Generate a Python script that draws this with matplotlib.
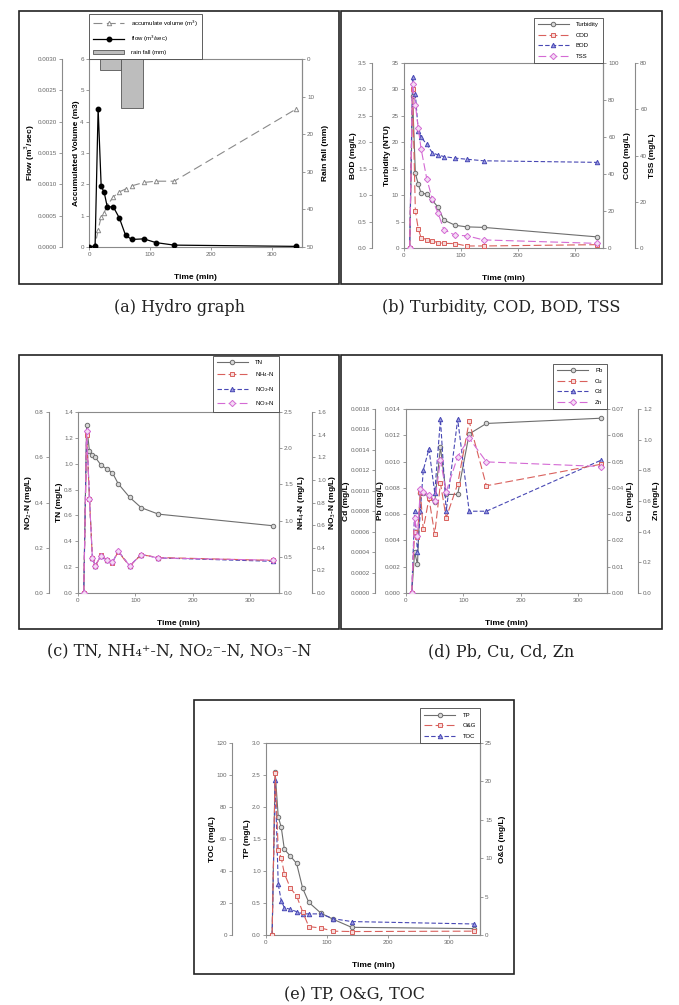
import matplotlib
matplotlib.use("Agg")
from matplotlib import pyplot as plt
from matplotlib.patches import Rectangle, Patch

# ---- data ----
t_flow = [0, 10, 15, 20, 25, 30, 40, 50, 60, 70, 90, 110, 140, 340]
flow = [0, 0.00001, 0.00221, 0.00097, 0.00087, 0.00064, 0.00064, 0.00046,
        0.00019, 0.00012, 0.00013, 0.00007, 0.00003, 0.00001]
volume = [0, 0.05, 0.55, 0.96, 1.1, 1.33, 1.6, 1.76, 1.85, 1.95, 2.06, 2.1, 2.1, 4.4]
rain_from = [18, 52]
rain_to = [52, 88]
rain_mm = [3, 13]

t_q = [10, 15, 20, 25, 30, 40, 50, 60, 70, 90, 110, 140, 340]

turbidity = [0, 28.8, 14.1, 12.1, 10.4, 10.2, 9.0, 7.7, 5.3, 4.3, 4.0, 3.9, 2.1]
cod = [0, 86, 20, 10.5, 5.6, 4.5, 3.8, 2.9, 2.5, 2.4, 1.1, 1.1, 1.8]
bod = [0, 3.23, 2.91, 2.22, 2.1, 1.96, 1.8, 1.76, 1.73, 1.7, 1.68, 1.65, 1.62]
tss = [0, 71, 62, 52, 43, 30, 21, 15, 8, 5.5, 5.3, 3.5, 2]

tn = [0, 1.30, 1.095, 1.07, 1.05, 0.99, 0.96, 0.93, 0.845, 0.74, 0.66, 0.61, 0.52]
nh4 = [0, 2.18, 1.30, 0.49, 0.37, 0.52, 0.46, 0.42, 0.57, 0.37, 0.53, 0.49, 0.45]
no2 = [0, 0.72, 0.42, 0.155, 0.12, 0.165, 0.145, 0.135, 0.185, 0.12, 0.17, 0.155, 0.14]
no3 = [0, 1.43, 0.83, 0.31, 0.24, 0.33, 0.29, 0.27, 0.37, 0.24, 0.34, 0.31, 0.29]

pb = [0, 0.0031, 0.0022, 0.0076, 0.0076, 0.0073, 0.0069, 0.0111, 0.0075, 0.0075, 0.0121, 0.0129, 0.0133]
cu = [0, 0.0233, 0.0214, 0.0385, 0.0242, 0.036, 0.0224, 0.0417, 0.0286, 0.0415, 0.0653, 0.0408, 0.049]
cd = [0, 0.0008, 0.0004, 0.0008, 0.0012, 0.00141, 0.00098, 0.0017, 0.0008, 0.0017, 0.0008, 0.0008, 0.0013]
zn = [0, 0.49, 0.37, 0.68, 0.66, 0.64, 0.6, 0.865, 0.66, 0.89, 1.01, 0.855, 0.825]

tp = [0, 2.54, 1.85, 1.68, 1.34, 1.23, 1.12, 0.73, 0.51, 0.34, 0.245, 0.12, 0.10]
og = [0, 21.1, 11.1, 10.0, 8.0, 6.1, 5.1, 3.0, 1.1, 0.9, 0.5, 0.45, 0.5]
toc = [0, 97, 31.7, 21.3, 17.1, 16, 14.6, 13.2, 13.2, 13.2, 10.2, 8.4, 6.9]

captions = [
    "(a) Hydro graph",
    "(b) Turbidity, COD, BOD, TSS",
    "(c) TN, NH\u2084\u207a-N, NO\u2082\u207b-N, NO\u2083\u207b-N",
    "(d) Pb, Cu, Cd, Zn",
    "(e) TP, O&G, TOC",
]

W, H = 679, 1005
SPINE = "#8a8a8a"
TICK = "#666666"

plt.rcParams["font.family"] = "Liberation Sans"

fig = plt.figure(figsize=(W / 100, H / 100), dpi=100)

# series styles (shared by panels b-e)
S_GRAY = dict(color="#6e6e6e", ls="-", marker="o", mfc="#d8d8d8", mec="#6e6e6e")
S_RED = dict(color="#d9605c", ls=(0, (7, 3)), marker="s", mfc="#f6dcdc", mec="#d9605c")
S_BLUE = dict(color="#4848b4", ls=(0, (4, 2)), marker="^", mfc="#9a9ae0", mec="#4848b4")
S_PINK = dict(color="#d46ad4", ls=(0, (7, 3)), marker="D", mfc="#f4ddf4", mec="#d46ad4")


def px_axes(x0, y0, x1, y1):
    # pixel box (top-left origin) -> figure axes
    return fig.add_axes([x0 / W, 1 - y1 / H, (x1 - x0) / W, (y1 - y0) / H])


def style(ax):
    for s in ax.spines.values():
        s.set_color(SPINE)
        s.set_linewidth(0.8)
    ax.tick_params(direction="out", length=2.2, width=0.6, color=SPINE,
                   labelsize=4.5, labelcolor=TICK, pad=1.5)
    ax.set_xlim(0, 350)
    ax.set_xticks([0, 100, 200, 300])
    ax.set_xlabel("Time (min)", fontsize=6, fontweight="bold", labelpad=12)


def twin(ax, side, offset=None):
    t = ax.twinx()
    for s in t.spines.values():
        s.set_visible(False)
        s.set_color(SPINE)
        s.set_linewidth(0.8)
    t.spines[side].set_visible(True)
    if offset is not None:
        t.spines[side].set_position(("axes", offset))
    t.yaxis.set_ticks_position(side)
    t.yaxis.set_label_position(side)
    t.tick_params(direction="out", length=2.2, width=0.6, color=SPINE,
                  labelsize=4.5, labelcolor=TICK, pad=1.5)
    return t


def ylab(ax, text, pad=0.5):
    ax.set_ylabel(text, fontsize=6, fontweight="bold", labelpad=pad)


def set_ticks(ax, top, step, fmt):
    n = int(round(top / step))
    ticks = [i * step for i in range(n + 1)]
    ax.set_ylim(0, top)
    ax.set_yticks(ticks)
    ax.set_yticklabels([fmt.format(v) for v in ticks])


def legend(ax, handles, labels, **kw):
    leg = ax.legend(handles, labels, fontsize=4.3, frameon=True, fancybox=False,
                    framealpha=1, edgecolor="#444444", borderaxespad=0,
                    handlelength=5.2, handletextpad=1.2, labelspacing=0.9,
                    borderpad=0.7, **kw)
    leg.get_frame().set_linewidth(0.6)
    return leg


def line(ax, x, y, st, label):
    return ax.plot(x, y, lw=0.8, ms=3.2, mew=0.7, label=label, **st)[0]


# ---------------- (a) hydro graph ----------------
ax = px_axes(89, 59, 302, 247)
style(ax)
set_ticks(ax, 6, 1, "{:.0f}")
ylab(ax, "Accumulated Volume (m3)")
ax_flow = twin(ax, "left", -27 / 213)
set_ticks(ax_flow, 0.003, 0.0005, "{:.4f}")
ylab(ax_flow, "Flow (m$^3$/sec)")
ax_rain = twin(ax, "right")
set_ticks(ax_rain, 50, 10, "{:.0f}")
ax_rain.invert_yaxis()
ylab(ax_rain, "Rain fall (mm)", pad=6)

h_vol, = ax.plot(t_flow, volume, color="#8a8a8a", ls=(0, (8, 4)), lw=0.8,
                 marker="^", ms=3.2, mfc="white", mec="#8a8a8a", mew=0.7)
h_flow, = ax_flow.plot(t_flow, flow, color="black", lw=0.9, marker="o", ms=3.2,
                       mfc="black", mec="black")
widths = [b - a for a, b in zip(rain_from, rain_to)]
ax_rain.bar(rain_from, rain_mm, width=widths, align="edge", color="#bdbdbd",
            edgecolor="#555555", linewidth=0.6)
h_rain = Patch(facecolor="#bdbdbd", edgecolor="#555555", linewidth=0.6)
legend(ax_rain, [h_vol, h_flow, h_rain],
       ["accumulate volume (m$^3$)", "flow (m$^3$/sec)", "rain fall (mm)"],
       loc="lower left", bbox_to_anchor=(0, 1))

# ---------------- (b) turbidity, COD, BOD, TSS ----------------
ax = px_axes(404, 63, 603, 248)
style(ax)
set_ticks(ax, 35, 5, "{:.0f}")
ylab(ax, "Turbidity (NTU)")
ax_bod = twin(ax, "left", -32 / 199)
set_ticks(ax_bod, 3.5, 0.5, "{:.1f}")
ylab(ax_bod, "BOD (mg/L)")
ax_cod = twin(ax, "right")
set_ticks(ax_cod, 100, 20, "{:.0f}")
ylab(ax_cod, "COD (mg/L)", pad=4)
ax_tss = twin(ax, "right", 1 + 32 / 199)
set_ticks(ax_tss, 80, 20, "{:.0f}")
ylab(ax_tss, "TSS (mg/L)", pad=1.5)

hb = [line(ax, t_q, turbidity, S_GRAY, "Turbidity"),
      line(ax_cod, t_q, cod, S_RED, "COD"),
      line(ax_bod, t_q, bod, S_BLUE, "BOD"),
      line(ax_tss, t_q, tss, S_PINK, "TSS")]
legend(ax_tss, hb, [h.get_label() for h in hb], loc="lower right",
       bbox_to_anchor=(1, 1))

# ---------------- (c) nitrogen ----------------
ax = px_axes(78, 412, 279, 593)
style(ax)
set_ticks(ax, 1.4, 0.2, "{:.1f}")
ylab(ax, "TN (mg/L)")
ax_no2 = twin(ax, "left", -29 / 201)
set_ticks(ax_no2, 0.8, 0.2, "{:.1f}")
ylab(ax_no2, "NO$_2$-N (mg/L)")
ax_nh4 = twin(ax, "right")
set_ticks(ax_nh4, 2.5, 0.5, "{:.1f}")
ylab(ax_nh4, "NH$_4$-N (mg/L)", pad=2.5)
ax_no3 = twin(ax, "right", 1 + 33 / 201)
set_ticks(ax_no3, 1.6, 0.2, "{:.1f}")
ylab(ax_no3, "NO$_3$-N (mg/L)")

hc = [line(ax, t_q, tn, S_GRAY, "TN"),
      line(ax_nh4, t_q, nh4, S_RED, "NH$_4$-N"),
      line(ax_no2, t_q, no2, S_BLUE, "NO$_2$-N"),
      line(ax_no3, t_q, no3, S_PINK, "NO$_3$-N")]
legend(ax_no3, hc, [h.get_label() for h in hc], loc="lower right",
       bbox_to_anchor=(1, 1))

# ---------------- (d) heavy metals ----------------
ax = px_axes(406, 409, 607, 593)
style(ax)
set_ticks(ax, 0.014, 0.002, "{:.3f}")
ylab(ax, "Pb (mg/L)")
ax_cd = twin(ax, "left", -31 / 201)
set_ticks(ax_cd, 0.0018, 0.0002, "{:.4f}")
ylab(ax_cd, "Cd (mg/L)")
ax_cu = twin(ax, "right")
set_ticks(ax_cu, 0.07, 0.01, "{:.2f}")
ylab(ax_cu, "Cu (mg/L)", pad=2)
ax_zn = twin(ax, "right", 1 + 31 / 201)
set_ticks(ax_zn, 1.2, 0.2, "{:.1f}")
ylab(ax_zn, "Zn (mg/L)")

hd = [line(ax, t_q, pb, S_GRAY, "Pb"),
      line(ax_cu, t_q, cu, S_RED, "Cu"),
      line(ax_cd, t_q, cd, S_BLUE, "Cd"),
      line(ax_zn, t_q, zn, S_PINK, "Zn")]
legend(ax_zn, hd, [h.get_label() for h in hd], loc="lower right",
       bbox_to_anchor=(1, 1))

# ---------------- (e) TP, O&G, TOC ----------------
ax = px_axes(266, 743, 480, 935)
style(ax)
set_ticks(ax, 3.0, 0.5, "{:.1f}")
ylab(ax, "TP (mg/L)")
ax_toc = twin(ax, "left", -34 / 214)
set_ticks(ax_toc, 120, 20, "{:.0f}")
ylab(ax_toc, "TOC (mg/L)")
ax_og = twin(ax, "right")
set_ticks(ax_og, 25, 5, "{:.0f}")
ylab(ax_og, "O&G (mg/L)", pad=5)

he = [line(ax, t_q, tp, S_GRAY, "TP"),
      line(ax_og, t_q, og, S_RED, "O&G"),
      line(ax_toc, t_q, toc, S_BLUE, "TOC")]
legend(ax_og, he, [h.get_label() for h in he], loc="lower right",
       bbox_to_anchor=(1, 1))

# ---- panel frames and captions ----
frames = [(19, 11, 339, 284), (341, 11, 662, 284), (19, 355, 339, 629),
          (341, 355, 662, 629), (194, 700, 514, 974)]
cap_y = [307, 307, 652, 652, 995]
for (x0, y0, x1, y1), cap, cy in zip(frames, captions, cap_y):
    fig.add_artist(Rectangle((x0 / W, 1 - y1 / H), (x1 - x0) / W, (y1 - y0) / H,
                             transform=fig.transFigure, fill=False,
                             edgecolor="#222222", linewidth=1.2))
    fig.text((x0 + x1) / 2 / W, 1 - cy / H, cap, ha="center", va="center",
             fontsize=11.5, family="DejaVu Serif", color="#222222")

fig.savefig("out.png", dpi=100)
